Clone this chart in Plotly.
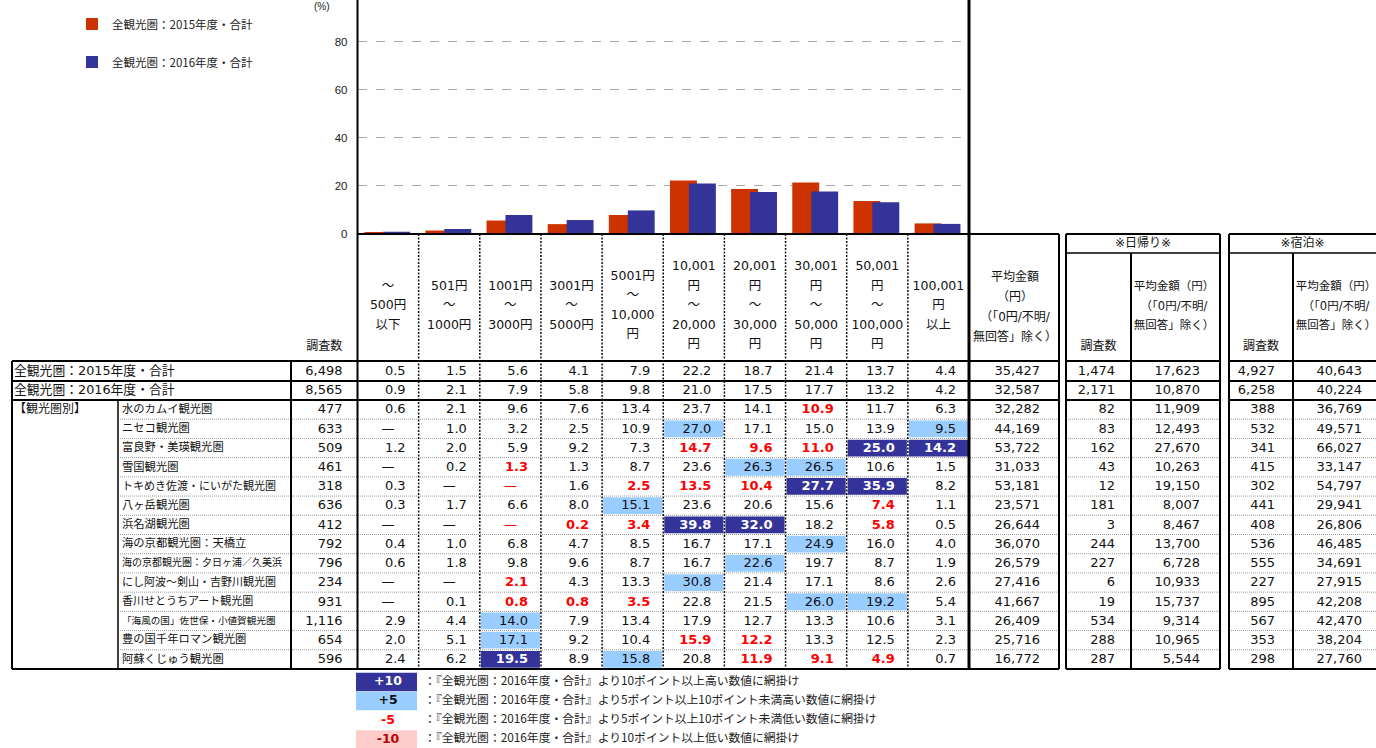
import plotly.graph_objects as go

# ---------------- data ----------------
categories = ["～<br>500円<br>以下", "501円<br>～<br>1000円", "1001円<br>～<br>3000円",
              "3001円<br>～<br>5000円", "5001円<br>～<br>10,000<br>円",
              "10,001<br>円<br>～<br>20,000<br>円", "20,001<br>円<br>～<br>30,000<br>円",
              "30,001<br>円<br>～<br>50,000<br>円", "50,001<br>円<br>～<br>100,000<br>円",
              "100,001<br>円<br>以上"]
series_names = ["全観光圏：2015年度・合計", "全観光圏：2016年度・合計"]
series_2015 = [0.5, 1.5, 5.6, 4.1, 7.9, 22.2, 18.7, 21.4, 13.7, 4.4]
series_2016 = [0.9, 2.1, 7.9, 5.8, 9.8, 21.0, 17.5, 17.7, 13.2, 4.2]
y_ticks = [0, 20, 40, 60, 80]

total_n = [6498, 8565]
total_avg = [35427, 32587]
total_day_n = [1474, 2171]
total_day_avg = [17623, 10870]
total_stay_n = [4927, 6258]
total_stay_avg = [40643, 40224]

group_label = "【観光圏別】"
areas = ["水のカムイ観光圏", "ニセコ観光圏", "富良野・美瑛観光圏", "雪国観光圏",
         "トキめき佐渡・にいがた観光圏", "八ヶ岳観光圏", "浜名湖観光圏", "海の京都観光圏：天橋立",
         "海の京都観光圏：夕日ヶ浦／久美浜", "にし阿波～剣山・吉野川観光圏", "香川せとうちアート観光圏",
         "「海風の国」佐世保・小値賀観光圏", "豊の国千年ロマン観光圏", "阿蘇くじゅう観光圏"]
area_n = [477, 633, 509, 461, 318, 636, 412, 792, 796, 234, 931, 1116, 654, 596]
area_pct = [
    [0.6, 2.1, 9.6, 7.6, 13.4, 23.7, 14.1, 10.9, 11.7, 6.3],
    [None, 1.0, 3.2, 2.5, 10.9, 27.0, 17.1, 15.0, 13.9, 9.5],
    [1.2, 2.0, 5.9, 9.2, 7.3, 14.7, 9.6, 11.0, 25.0, 14.2],
    [None, 0.2, 1.3, 1.3, 8.7, 23.6, 26.3, 26.5, 10.6, 1.5],
    [0.3, None, None, 1.6, 2.5, 13.5, 10.4, 27.7, 35.9, 8.2],
    [0.3, 1.7, 6.6, 8.0, 15.1, 23.6, 20.6, 15.6, 7.4, 1.1],
    [None, None, None, 0.2, 3.4, 39.8, 32.0, 18.2, 5.8, 0.5],
    [0.4, 1.0, 6.8, 4.7, 8.5, 16.7, 17.1, 24.9, 16.0, 4.0],
    [0.6, 1.8, 9.8, 9.6, 8.7, 16.7, 22.6, 19.7, 8.7, 1.9],
    [None, None, 2.1, 4.3, 13.3, 30.8, 21.4, 17.1, 8.6, 2.6],
    [None, 0.1, 0.8, 0.8, 3.5, 22.8, 21.5, 26.0, 19.2, 5.4],
    [2.9, 4.4, 14.0, 7.9, 13.4, 17.9, 12.7, 13.3, 10.6, 3.1],
    [2.0, 5.1, 17.1, 9.2, 10.4, 15.9, 12.2, 13.3, 12.5, 2.3],
    [2.4, 6.2, 19.5, 8.9, 15.8, 20.8, 11.9, 9.1, 4.9, 0.7],
]
area_avg = [32282, 44169, 53722, 31033, 53181, 23571, 26644, 36070, 26579, 27416, 41667, 26409, 25716, 16772]
day_n = [82, 83, 162, 43, 12, 181, 3, 244, 227, 6, 19, 534, 288, 287]
day_avg = [11909, 12493, 27670, 10263, 19150, 8007, 8467, 13700, 6728, 10933, 15737, 9314, 10965, 5544]
stay_n = [388, 532, 341, 415, 302, 441, 408, 536, 555, 227, 895, 567, 353, 298]
stay_avg = [36769, 49571, 66027, 33147, 54797, 29941, 26806, 46485, 34691, 27915, 42208, 42470, 38204, 27760]

header_n = "調査数"
header_avg = ["平均金額", "（円）", "（「0円/不明/", "無回答」除く）"]
header_day = "※日帰り※"
header_stay = "※宿泊※"
header_sub_avg = ["平均金額（円）", "（「0円/不明/", "無回答」除く）"]
dash_text = "—"
unit_label = "(%)"
legend_keys = ["+10", "+5", "-5", "-10"]
legend_texts = ["：『全観光圏：2016年度・合計』より10ポイント以上高い数値に網掛け",
                "：『全観光圏：2016年度・合計』より5ポイント以上10ポイント未満高い数値に網掛け",
                "：『全観光圏：2016年度・合計』より5ポイント以上10ポイント未満低い数値に網掛け",
                "：『全観光圏：2016年度・合計』より10ポイント以上低い数値に網掛け"]

# ---------------- layout constants (pixels of the 1376x748 design) ----------------
W, H = 1376, 748
X0, XG, XNAME, XN = 12, 118, 291, 357.5
XPCT_END = 969
XAVG = 1059
COLW = (XPCT_END - XN) / 10
D1 = (1066, 1131, 1220)
D2 = (1229, 1293, 1400)
YH0, YH1 = 234, 361
Y_TOT = [361, 381, 400]
Y_END = 669
ROWH = (Y_END - 400) / 14
Y_SUBHEAD = 253

RED_BAR = "#cc3300"
BLUE_BAR = "#333399"
NAVY = "#333399"
LIGHT = "#99ccff"
PINK = "#ffcccc"
RED_TXT = "#ff0000"
DARKRED = "#c00000"
TXT = "#111111"
MIX = "DejaVu Sans, Noto Sans CJK JP, sans-serif"
CJK = "Noto Sans CJK JP, sans-serif"
NAME_SIZES = [11.3, 11.3, 11.3, 11.3, 11, 11.3, 11.3, 11.3, 10, 11, 11, 9.6, 11.3, 11.3]
NUM_SIZE = 13
LEG_Y = [682, 701, 720.5, 739.5]
LEG_BOX_H = 18.6

fig = go.Figure()

# ---------------- bar chart ----------------
fig.add_trace(go.Bar(x=categories, y=series_2015, name=series_names[0], marker_color=RED_BAR,
                     marker_line_width=0, width=0.44, offset=-0.39, legend="legend",
                     xaxis="x", yaxis="y", hoverinfo="skip"))
fig.add_trace(go.Bar(x=categories, y=series_2016, name=series_names[1], marker_color=BLUE_BAR,
                     marker_line_width=0, width=0.44, offset=-0.08, legend="legend2",
                     xaxis="x", yaxis="y", hoverinfo="skip"))

# ---------------- table text ----------------
tx, ty, tt, tp, tc, ts, tf = [], [], [], [], [], [], []


def put(x, y, text, pos="middle center", size=NUM_SIZE, color=TXT, family=MIX):
    tx.append(x); ty.append(y); tt.append(text); tp.append(pos)
    tc.append(color); ts.append(size); tf.append(family)


def fmt_int(v):
    return f"{v:,}"


shapes = []


def rect(x0, x1, y0, y1, fill):
    shapes.append(dict(type="rect", xref="x2", yref="y2", x0=x0, x1=x1, y0=y0, y1=y1,
                       fillcolor=fill, line=dict(width=0), layer="below"))


def hline(y, x0, x1, w=2, color="black", dash="solid"):
    shapes.append(dict(type="line", xref="x2", yref="y2", x0=x0, x1=x1, y0=y, y1=y,
                       line=dict(width=w, color=color, dash=dash), layer="above"))


def vline(x, y0, y1, w=2, color="black", dash="solid"):
    shapes.append(dict(type="line", xref="x2", yref="y2", x0=x, x1=x, y0=y0, y1=y1,
                       line=dict(width=w, color=color, dash=dash), layer="above"))


def col_left(i):
    return XN + i * COLW


# headers
for i, lab in enumerate(categories):
    lines = lab.split("<br>")
    n = len(lines)
    for j, ln in enumerate(lines):
        put(col_left(i) + COLW / 2, 306 + (j - (n - 1) / 2) * 19.5, ln, size=12.5)
put((XNAME + XN) / 2, 347, header_n, size=12)
for j, ln in enumerate(header_avg):
    put((XPCT_END + XAVG) / 2 + 1, 308 + (j - 1.5) * 20, ln, size=12)
for D, title in ((D1, header_day), (D2, header_stay)):
    cx = (D[0] + min(D[2], W)) / 2
    put(cx, 244, title, size=12)
    put((D[0] + D[1]) / 2, 347, header_n, size=12)
    for j, ln in enumerate(header_sub_avg):
        put(D[1] + 43, 307 + (j - 1) * 19.5, ln, size=11.5)


def pct_cells(vals, yc, ytop, ybot, base=None):
    for i, v in enumerate(vals):
        color, bold, bg = TXT, False, None
        if base is not None:
            diff = round((v or 0) - base[i], 1)
            if diff >= 10:
                bg, color, bold = NAVY, "white", True
            elif diff >= 5:
                bg = LIGHT
            elif diff <= -10:
                bg, color, bold = PINK, DARKRED, True
            elif diff <= -5:
                color, bold = RED_TXT, True
        if bg:
            rect(col_left(i) + 1, col_left(i + 1) - 1, ytop + 1.2, ybot - 1.2, bg)
        if v is None:
            put(col_left(i) + COLW / 2, yc, dash_text, color=color)
        else:
            s = f"{v:.1f}"
            put(col_left(i + 1) - 13, yc, f"<b>{s}</b>" if bold else s, pos="middle left", color=color)


def side_cells(n, avg, dn, da, sn, sa, yc):
    put(XN - 15, yc, fmt_int(n), pos="middle left")
    put(XAVG - 19, yc, fmt_int(avg), pos="middle left")
    put(D1[1] - 16, yc, fmt_int(dn), pos="middle left")
    put(D1[2] - 20, yc, fmt_int(da), pos="middle left")
    put(D2[1] - 18, yc, fmt_int(sn), pos="middle left")
    put(1362, yc, fmt_int(sa), pos="middle left")


# totals
totals_pct = [series_2015, series_2016]
for r in range(2):
    y0, y1 = Y_TOT[r], Y_TOT[r + 1]
    yc = (y0 + y1) / 2 + 0.5
    put(X0 + 2, yc, series_names[r], pos="middle right", size=12.8)
    pct_cells(totals_pct[r], yc, y0, y1)
    side_cells(total_n[r], total_avg[r], total_day_n[r], total_day_avg[r],
               total_stay_n[r], total_stay_avg[r], yc)

# areas
for k, name in enumerate(areas):
    y0 = 400 + k * ROWH
    y1 = y0 + ROWH
    yc = (y0 + y1) / 2 + 0.5
    if k == 0:
        put(X0 + 2, yc, group_label, pos="middle right", size=12)
    put(XG + 4, yc, name, pos="middle right", size=NAME_SIZES[k])
    pct_cells(area_pct[k], yc, y0, y1, base=series_2016)
    side_cells(area_n[k], area_avg[k], day_n[k], day_avg[k], stay_n[k], stay_avg[k], yc)

# bottom legend
leg_bg = [NAVY, LIGHT, None, PINK]
leg_fg = ["white", TXT, RED_TXT, DARKRED]
for j, key in enumerate(legend_keys):
    if leg_bg[j]:
        rect(356, 417, LEG_Y[j] - LEG_BOX_H / 2, LEG_Y[j] + LEG_BOX_H / 2, leg_bg[j])
    put(388, LEG_Y[j], f"<b>{key}</b>", size=12.5, color=leg_fg[j])
    put(424, LEG_Y[j], legend_texts[j], pos="middle right", size=11.8, color="#222", family=CJK)

fig.add_trace(go.Scatter(x=tx, y=ty, text=tt, mode="text", textposition=tp,
                         textfont=dict(color=tc, size=ts, family=tf),
                         xaxis="x2", yaxis="y2", showlegend=False, hoverinfo="skip",
                         cliponaxis=False))

# ---------------- borders ----------------
hline(YH0, XN, XAVG, 2)
for y in Y_TOT + [Y_END]:
    hline(y, X0, XAVG, 2)
for k in range(1, 14):
    hline(400 + k * ROWH, XG, XAVG, 1, "#9a9a9a", "1px,1px")
vline(X0, YH1, Y_END, 2)
vline(XG, 400, Y_END, 1.5)
vline(XNAME, YH1, Y_END, 2)
vline(XN, 0, Y_END, 2)
for i in range(1, 10):
    vline(col_left(i), YH0, Y_END, 1.5, "#111", "2px,1.5px")
vline(XPCT_END, 0, Y_END, 3)
vline(XAVG, YH0, Y_END, 2)
for D in (D1, D2):
    hline(YH0, D[0], D[2], 2)
    hline(Y_SUBHEAD, D[0], D[2], 1.5)
    for y in Y_TOT + [Y_END]:
        hline(y, D[0], D[2], 2)
    for k in range(1, 14):
        hline(400 + k * ROWH, D[0], D[2], 1, "#9a9a9a", "1px,1px")
    vline(D[0], YH0, Y_END, 2)
    vline(D[1], Y_SUBHEAD, Y_END, 2)
    vline(D[2], YH0, Y_END, 2)

# ---------------- layout ----------------
ppu = (234 - 41.5) / 80.0
fig.update_layout(
    autosize=True, margin=dict(l=0, r=0, t=0, b=0, autoexpand=False),
    paper_bgcolor="white", plot_bgcolor="rgba(0,0,0,0)",
    barmode="overlay", shapes=shapes,
    xaxis=dict(domain=[XN / W, XPCT_END / W], anchor="y", showticklabels=False, automargin=False,
               showgrid=False, zeroline=False, showline=False, ticks="", fixedrange=True),
    yaxis=dict(domain=[1 - YH0 / H, 1], anchor="x", range=[0, YH0 / ppu], tickvals=y_ticks,
               showgrid=True, gridcolor="#a8a8a8", griddash="dash", gridwidth=1, automargin=False,
               zeroline=False, showline=False, ticks="", ticklabelstandoff=9,
               tickfont=dict(family="Liberation Sans, Arial", size=11.5, color="#222"),
               fixedrange=True),
    xaxis2=dict(domain=[0, 1], anchor="y2", range=[0, W], visible=False, fixedrange=True,
                automargin=False),
    yaxis2=dict(domain=[0, 1], anchor="x2", range=[H, 0], visible=False, fixedrange=True,
                automargin=False),
    legend=dict(x=72 / W, y=1 - 24 / H, xanchor="left", yanchor="middle",
                bgcolor="rgba(0,0,0,0)", font=dict(family=CJK, size=11.5, color="#222")),
    legend2=dict(x=72 / W, y=1 - 62 / H, xanchor="left", yanchor="middle",
                 bgcolor="rgba(0,0,0,0)", font=dict(family=CJK, size=11.5, color="#222")),
    annotations=[dict(xref="paper", yref="paper", x=312 / W, y=1, text=unit_label,
                      showarrow=False, yanchor="top", yshift=1,
                      font=dict(family="Liberation Sans", size=10, color="#222"))],
    hovermode=False,
)

fig.write_html(
    "out.html",
    default_width="100vw", default_height="100vh",
    config={"displayModeBar": False, "responsive": True},
    post_script=("document.documentElement.style.overflow='hidden';"
                 "document.body.style.margin='0';document.body.style.overflow='hidden';"
                 "var d=document.getElementById('{plot_id}');"
                 "d.style.position='fixed';d.style.left='0px';d.style.top='0px';"),
)
